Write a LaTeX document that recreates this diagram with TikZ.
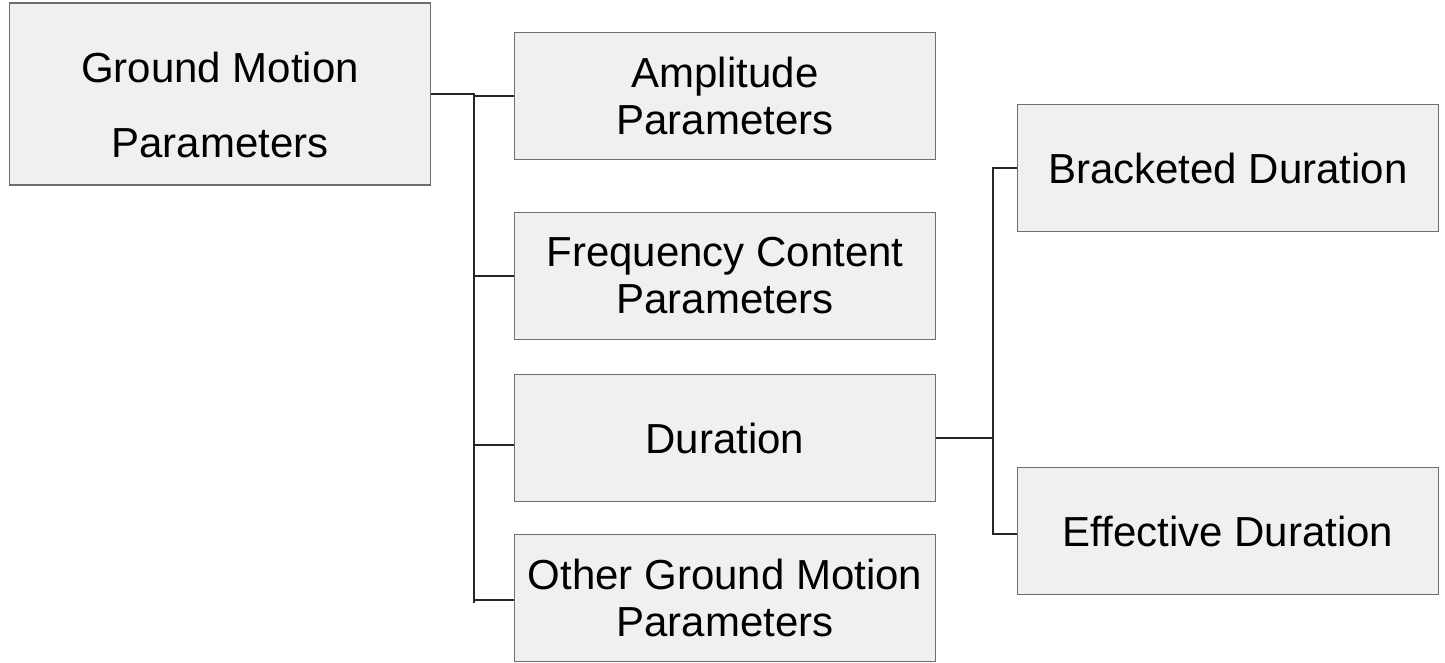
\documentclass[tikz,border=0pt]{standalone}
\usepackage{fontspec}
\setmainfont{Liberation Sans}
\usetikzlibrary{positioning}

\definecolor{boxfill}{HTML}{F0F0F0}
\definecolor{boxline}{HTML}{6E6E6E}
\definecolor{wire}{HTML}{262626}

\begin{document}
\begin{tikzpicture}[x=1pt, y=-1pt,
    paramBox/.style={draw=boxline, fill=boxfill, line width=1.3pt,
        minimum width=421pt, minimum height=127pt, inner sep=0pt,
        align=center, font=\fontsize{42}{47}\selectfont},
    wireLine/.style={draw=wire, line width=1.4pt}]
    \useasboundingbox (0,0) rectangle (1445,663);

    % Root box
    \node[paramBox, minimum height=182pt] (gmp) at (220,94) {};
    \node[align=center, font=\fontsize{42}{75}\selectfont]
        (gmpText) at ([yshift=-11pt]gmp.center) {Ground Motion\\Parameters};

    % First level
    \node[paramBox] (amp) at (725,96) {Amplitude\\Parameters};
    \node[paramBox] (freq) at (725,276) {Frequency Content\\Parameters};
    \node[paramBox] (dur) at (725,438) {Duration};
    \node[paramBox] (other) at (725,598) {Other Ground Motion\\Parameters};

    % Second level
    \node[paramBox] (brack) at (1228,168) {Bracketed Duration};
    \node[paramBox] (eff) at (1228,531) {Effective Duration};

    % Connectors from the root
    \coordinate (busA) at (474,94);
    \coordinate (busAend) at (474,603);
    \draw[wireLine] (gmp.east) -- (busA) |- (amp.west);
    \draw[wireLine] (busA) -- (busAend);
    \draw[wireLine] (busA) |- (freq.west);
    \draw[wireLine] (busA) |- ([yshift=-7pt]dur.west);
    \draw[wireLine] (busA) |- ([yshift=-2pt]other.west);

    % Connectors from Duration
    \coordinate (busB) at (993,438);
    \draw[wireLine] (dur.east) -- (busB);
    \draw[wireLine] (busB) |- (brack.west);
    \draw[wireLine] (busB) |- ([yshift=-3pt]eff.west);
\end{tikzpicture}
\end{document}
